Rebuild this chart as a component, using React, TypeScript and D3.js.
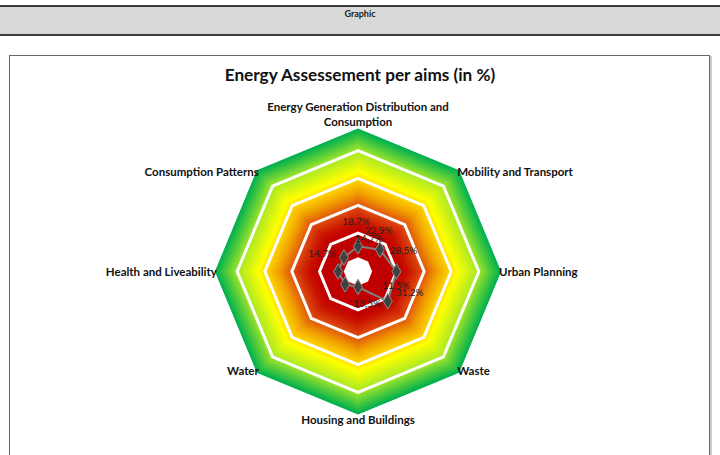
import React, { useEffect, useRef } from 'react';
import * as d3 from 'd3';

// aims, clockwise from the top
const categories = [
  'Energy Generation Distribution and Consumption',
  'Mobility and Transport',
  'Urban Planning',
  'Waste',
  'Housing and Buildings',
  'Water',
  'Health and Liveability',
  'Consumption Patterns',
];
const values = [18.7, 22.9, 28.5, 31.2, 11.5, 13.5, 14.7, 14.7];

// background bands, in the same % units as the values
const bgHole = 10.5;
const bgRings = [28.5, 49, 69, 89.5];
const bgOuter = 106;
const bgColorStops = [0, 30, 37, 49, 59, 69, 74, 89.5, 106];
const bgColors = ['#c00000', '#c00000', '#c81000', '#e05010', '#f0a000', '#ffd800', '#ffff00', '#a8e828', '#00b050'];

const W = 720;
const H = 455;

const App = () => {
  const svgRef = useRef<SVGSVGElement>(null);

  useEffect(() => {
    const svg = d3.select(svgRef.current);
    svg.selectAll('*').remove();

    const cx = 358;
    const cy = 271.5;
    const n = categories.length;
    const rScale = d3.scaleLinear().domain([0, 100]).range([0, 135]);
    const angle = (i: number) => (i * 2 * Math.PI) / n;
    const pt = (i: number, v: number): [number, number] => [
      cx + rScale(v) * Math.sin(angle(i)),
      cy - rScale(v) * Math.cos(angle(i)),
    ];
    const octagon = (v: number) =>
      d3.line()(d3.range(n).map(i => pt(i, v))) + 'Z';

    // header band
    svg.append('rect').attr('x', 0).attr('y', 6).attr('width', W).attr('height', 29).attr('fill', '#d9d9d9');
    [6, 35].forEach(y =>
      svg.append('line').attr('x1', 0).attr('x2', W).attr('y1', y).attr('y2', y)
        .attr('stroke', '#000').attr('stroke-width', 1.5));
    svg.append('text').attr('x', 360).attr('y', 17).attr('text-anchor', 'middle')
      .attr('font-family', 'Lato, sans-serif').attr('font-weight', 'bold').attr('font-size', 9)
      .attr('fill', '#222').text('Graphic');

    // chart frame
    svg.append('rect').attr('x', 11).attr('y', 57).attr('width', 700).attr('height', 420)
      .attr('fill', 'none').attr('stroke', '#bbb').attr('stroke-width', 1.5);
    svg.append('rect').attr('x', 9.5).attr('y', 55.5).attr('width', 700).attr('height', 420)
      .attr('fill', '#fff').attr('stroke', '#666').attr('stroke-width', 1);

    // title
    svg.append('text').attr('x', 360).attr('y', 81).attr('text-anchor', 'middle')
      .attr('font-family', 'Lato, sans-serif').attr('font-weight', 'bold').attr('font-size', 17.2)
      .attr('fill', '#111').text('Energy Assessement per aims (in %)');

    // octagonal "path" gradient: nested octagons from outside in
    const color = d3.scaleLinear<string>().domain(bgColorStops).range(bgColors).interpolate(d3.interpolateRgb);
    const steps = d3.range(bgOuter, bgHole, -0.5);
    const bg = svg.append('g');
    bg.selectAll('path.band')
      .data(steps)
      .enter().append('path')
      .attr('class', 'band')
      .attr('d', d => octagon(d))
      .attr('fill', d => color(d));
    bg.append('path').attr('d', octagon(bgHole)).attr('fill', '#fff');
    bg.selectAll('path.ring')
      .data(bgRings)
      .enter().append('path')
      .attr('class', 'ring')
      .attr('d', d => octagon(d))
      .attr('fill', 'none')
      .attr('stroke', '#fff')
      .attr('stroke-width', 3)
      .attr('stroke-linejoin', 'miter');

    // data series
    const pts = values.map((v, i) => pt(i, v));
    svg.append('path')
      .attr('d', d3.line()(pts) + 'Z')
      .attr('fill', 'none')
      .attr('stroke', '#7f7f7f')
      .attr('stroke-width', 2);
    const diamond = d3.symbol(d3.symbolDiamond, 70);
    svg.selectAll('path.marker')
      .data(pts)
      .enter().append('path')
      .attr('class', 'marker')
      .attr('transform', d => `translate(${d[0]},${d[1]})`)
      .attr('d', diamond())
      .attr('fill', '#404040')
      .attr('stroke', '#8c8c8c')
      .attr('stroke-width', 1);

    // data labels (Excel placed them loosely around the points)
    const labelOffsets = [[-2, -25], [-1, -19], [7, -21], [22, -9], [38, -2], [22, 19], [-16, -18], [25, -18.5]];
    const fmt = (v: number) => d3.format('.1f')(v).replace('.', ',') + '%';
    svg.selectAll('text.val')
      .data(values)
      .enter().append('text')
      .attr('class', 'val')
      .attr('x', (d, i) => pts[i][0] + labelOffsets[i][0])
      .attr('y', (d, i) => pts[i][1] + labelOffsets[i][1])
      .attr('dy', '0.35em')
      .attr('text-anchor', 'middle')
      .attr('font-family', 'Lato, sans-serif')
      .attr('font-size', 10)
      .attr('fill', '#222')
      .text(d => fmt(d));

    // category labels at the outer vertices
    const catG = svg.append('g')
      .attr('font-family', 'Lato, sans-serif')
      .attr('font-weight', 'bold')
      .attr('font-size', 11.5)
      .attr('fill', '#111');
    categories.forEach((c, i) => {
      const [vx, vy] = pt(i, bgOuter);
      const s = Math.sin(angle(i));
      const co = Math.cos(angle(i));
      const words = c.split(' ');
      const lines = c.length > 36 ? [words.slice(0, -1).join(' '), words[words.length - 1]] : [c];
      const t = catG.append('text');
      if (Math.abs(s) < 0.1) {
        t.attr('text-anchor', 'middle');
        const base = co > 0 ? vy - 2 - (lines.length - 1) * 15 : vy + 9;
        lines.forEach((l, j) => t.append('tspan').attr('x', vx).attr('y', base + j * 15).text(l));
      } else {
        t.attr('text-anchor', s > 0 ? 'start' : 'end')
          .attr('x', s > 0 ? vx - 2 : vx + 2)
          .attr('y', vy + (co > 0.1 ? 2 : co < -0.1 ? -2 : 0))
          .attr('dy', '0.35em')
          .text(c);
      }
    });
  }, []);

  return (
    <svg ref={svgRef} width={W} height={H}
      style={{ position: 'absolute', left: 0, top: 0, background: '#fff' }} />
  );
};

export default App;
